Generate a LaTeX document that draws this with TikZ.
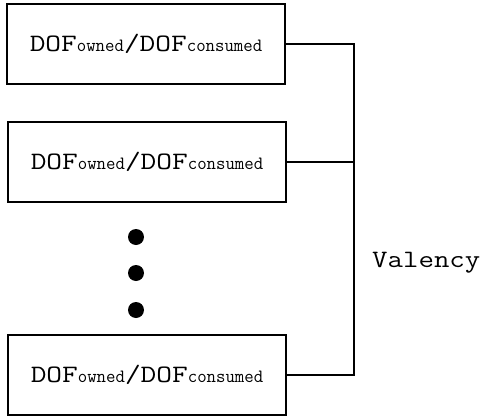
\documentclass[tikz,border=0pt]{standalone}
\usepackage{graphicx}
\begin{document}
\begin{tikzpicture}[x=1pt,y=-1pt,
  ratiobox/.style={draw, line width=1.8pt, minimum width=278pt, minimum height=80pt,
    inner sep=0pt, font=\ttfamily\fontsize{25}{25}\selectfont},
  link/.style={line width=1.4pt},
  dotmark/.style={circle, fill, minimum size=16pt, inner sep=0pt},
  bigtt/.style={font=\ttfamily\fontsize{25}{25}\selectfont, inner sep=0pt}]
\newcommand{\subtt}[1]{\scalebox{1}[1.25]{\fontsize{15}{15}\selectfont #1}}
\newcommand{\widett}[1]{\scalebox{1.22}[1]{#1}}
\newcommand{\ratiotext}{\widett{DOF\subtt{owned}/DOF\subtt{consumed}}}
\useasboundingbox (0,0) rectangle (483,418);

% boxes
\node[ratiobox] (b1) at (146,44) {\ratiotext};
\node[ratiobox] (b2) at (147,162) {\ratiotext};
\node[ratiobox] (b3) at (147,375) {\ratiotext};

% ellipsis dots
\node[dotmark] (d1) at (136,237) {};
\node[dotmark] (d2) at (136,273) {};
\node[dotmark] (d3) at (136,310) {};

% bracket
\coordinate (j1) at (354,44);
\coordinate (j2) at (354,162);
\coordinate (j3) at (354,375);
\draw[link] (b1.east) -- (j1) -- (j3) -- (b3.east);
\draw[link] (b2.east) -- (j2);

% label
\node[bigtt, anchor=base west] (val) at (372,267) {\scalebox{1.2}[1]{Valency}};
\end{tikzpicture}
\end{document}
